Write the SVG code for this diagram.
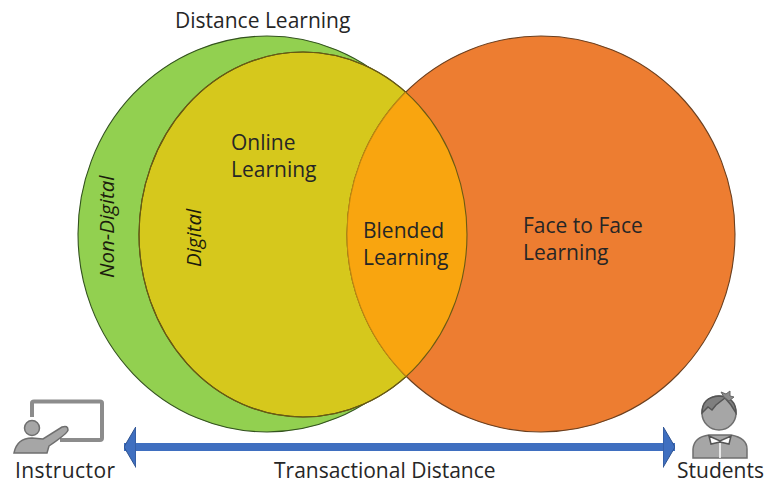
<svg xmlns="http://www.w3.org/2000/svg" width="766" height="484" viewBox="0 0 766 484">
<style>
text{font-family:"Open Sans","Noto Sans",sans-serif;font-size:21px;fill:#262626}
.i{font-style:italic;font-size:20.5px;fill:#1c1c0c}
.c{stroke-width:1.1}
.g{fill:#a6a6a6;stroke:#6f6f6f;stroke-width:1.5}
</style>
<defs>
<clipPath id="yc"><ellipse cx="303" cy="234.5" rx="164" ry="182.5"/></clipPath>
<marker id="ah" viewBox="0 0 12 41" refX="12" refY="20.5" markerWidth="12" markerHeight="41" markerUnits="userSpaceOnUse" orient="auto-start-reverse"><path d="M0 0L12 20.5L0 41Z" fill="#3f6fc0" stroke="#2f528f"/></marker>
</defs>
<rect width="766" height="484" fill="#fff"/>
<g id="distance-learning">
<ellipse class="c" cx="267" cy="234" rx="189" ry="198" fill="#92d050" stroke="#33521f"/>
<text x="175" y="28">Distance Learning</text>
<text class="i" transform="translate(114,278) rotate(-90)">Non-Digital</text>
</g>
<g id="online-learning">
<ellipse class="c" cx="303" cy="234.5" rx="164" ry="182.5" fill="#d6c81c" stroke="#4a4a12"/>
<text x="231" y="150">Online</text>
<text x="231" y="177">Learning</text>
<text class="i" transform="translate(201,267) rotate(-90)">Digital</text>
</g>
<g id="face-to-face">
<ellipse class="c" cx="541" cy="234" rx="194" ry="198" fill="#ed7d31" stroke="#6b4020"/>
<text x="523" y="233">Face to Face</text>
<text x="523" y="260">Learning</text>
</g>
<g id="blended-learning">
<ellipse cx="541" cy="234" rx="194" ry="198" fill="#f9a50f" clip-path="url(#yc)"/>
<ellipse cx="303" cy="234.5" rx="164" ry="182.5" fill="none" stroke="#6b5a14" stroke-width="1.1"/>
<ellipse cx="541" cy="234" rx="194" ry="198" fill="none" stroke="#c08a10" stroke-width="1.1" clip-path="url(#yc)"/>
<text x="363" y="238">Blended</text>
<text x="363" y="265">Learning</text>
</g>
<g id="connectors">
<line x1="124" y1="447" x2="675" y2="447" stroke="#3f6fc0" stroke-width="8" marker-start="url(#ah)" marker-end="url(#ah)"/>
</g>
<g id="instructor">
<path d="M32 417V403Q32 401.500 34 401.500H100Q102 401.500 102 403V438Q102 440 100 440H60" fill="none" stroke="#8c8c8c" stroke-width="4"/>
<circle class="g" cx="32" cy="428" r="7.500"/>
<path class="g" d="M14 453Q17 438 32 438L43 439L62 427Q68 425 68 430Q68 433 49 446L47 453Z"/>
<text x="15" y="478" style="letter-spacing:.4px">Instructor</text>
</g>
<g id="students">
<circle class="g" cx="719" cy="413" r="17"/>
<path d="M702 413Q702 397 719 396Q736 397 736 413L731 405L725 398L716 405L712 410L708 407Z" fill="#7f7f7f" stroke="#555" stroke-width="1.500"/>
<path d="M724 397L721 392L726 394L730 391L730 396L734 397L729 401Z" fill="#8c8c8c" stroke="#666"/>
<path class="g" d="M693 458V449Q694 437 709 435L731 435Q747 438 747 449V458Z"/>
<path d="M709 436L720 441L731 436L729 444L720 442L711 444Z" fill="#fff" stroke="#555" stroke-width="1.500"/>
<line x1="720" y1="443" x2="720" y2="458" stroke="#fff" stroke-width="1.500"/>
<text x="677" y="478">Students</text>
</g>
<text id="transactional-distance" x="274" y="478">Transactional Distance</text>
</svg>
